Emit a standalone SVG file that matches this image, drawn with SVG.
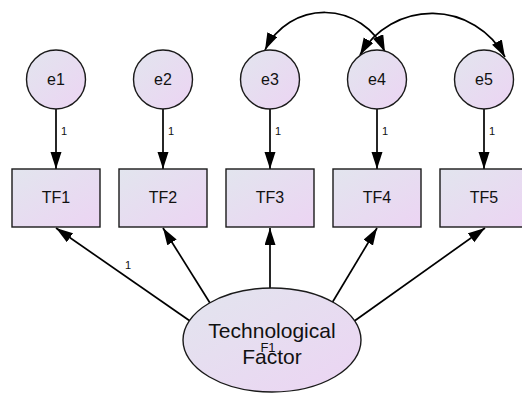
<svg xmlns="http://www.w3.org/2000/svg" width="522" height="400" viewBox="0 0 522 400">
  <defs>
    <linearGradient id="fillGrad" x1="0" y1="0" x2="1" y2="1">
      <stop offset="0" stop-color="#e2e5ee"/>
      <stop offset="1" stop-color="#ecd4f3"/>
    </linearGradient>
    <marker id="arrow" markerUnits="userSpaceOnUse" markerWidth="18" markerHeight="12" refX="17" refY="5.5" orient="auto-start-reverse">
      <path d="M0,0 L17,5.5 L0,11 Z" fill="#000"/>
    </marker>
    <style>
      .shape { fill: url(#fillGrad); stroke: #1a1a1a; stroke-width: 1.4; }
      .edge { fill: none; stroke: #000; stroke-width: 1.7; marker-end: url(#arrow); }
      .cov { fill: none; stroke: #000; stroke-width: 1.7; marker-start: url(#arrow); marker-end: url(#arrow); }
      .lbl { font-family: "Liberation Sans", Arial, sans-serif; fill: #111; text-anchor: middle; }
      .small { font-family: "Liberation Sans", Arial, sans-serif; font-size: 11px; fill: #111; }
    </style>
  </defs>
  <rect width="522" height="400" fill="#fff"/>

  <!-- connectors -->
  <g id="connectors">
    <!-- error terms to indicators -->
    <line class="edge" x1="56" y1="109" x2="56" y2="169"/>
    <line class="edge" x1="163" y1="109" x2="163" y2="169"/>
    <line class="edge" x1="270" y1="109" x2="270" y2="169"/>
    <line class="edge" x1="377" y1="109" x2="377" y2="169"/>
    <line class="edge" x1="484" y1="109" x2="484" y2="169"/>
    <text class="small" x="61" y="135">1</text>
    <text class="small" x="168" y="135">1</text>
    <text class="small" x="275" y="135">1</text>
    <text class="small" x="382" y="135">1</text>
    <text class="small" x="489" y="135">1</text>
    <!-- factor to indicators -->
    <line class="edge" x1="190" y1="321" x2="56" y2="228"/>
    <line class="edge" x1="210" y1="303" x2="163" y2="228"/>
    <line class="edge" x1="270" y1="288" x2="270" y2="228"/>
    <line class="edge" x1="332" y1="303" x2="377" y2="228"/>
    <line class="edge" x1="353" y1="322" x2="485" y2="228"/>
    <text class="small" x="125" y="269">1</text>
    <!-- covariances -->
    <path class="cov" d="M265,50 A66,66 0 0 1 385,52"/>
    <path class="cov" d="M360,55 A83,83 0 0 1 505,57"/>
  </g>

  <!-- error terms -->
  <g id="e1"><circle class="shape" cx="56" cy="79.5" r="29.5"/><text class="lbl" x="56" y="85" font-size="16">e1</text></g>
  <g id="e2"><circle class="shape" cx="163" cy="79.5" r="29.5"/><text class="lbl" x="163" y="85" font-size="16">e2</text></g>
  <g id="e3"><circle class="shape" cx="270" cy="79.5" r="29.5"/><text class="lbl" x="270" y="85" font-size="16">e3</text></g>
  <g id="e4"><circle class="shape" cx="377" cy="79.5" r="29.5"/><text class="lbl" x="377" y="85" font-size="16">e4</text></g>
  <g id="e5"><circle class="shape" cx="484" cy="79.5" r="29.5"/><text class="lbl" x="484" y="85" font-size="16">e5</text></g>

  <!-- observed indicators -->
  <g id="TF1"><rect class="shape" x="12" y="169" width="88" height="58"/><text class="lbl" x="56" y="203" font-size="16">TF1</text></g>
  <g id="TF2"><rect class="shape" x="119" y="169" width="88" height="58"/><text class="lbl" x="163" y="203" font-size="16">TF2</text></g>
  <g id="TF3"><rect class="shape" x="226" y="169" width="88" height="58"/><text class="lbl" x="270" y="203" font-size="16">TF3</text></g>
  <g id="TF4"><rect class="shape" x="333" y="169" width="88" height="58"/><text class="lbl" x="377" y="203" font-size="16">TF4</text></g>
  <g id="TF5"><rect class="shape" x="440" y="169" width="88" height="58"/><text class="lbl" x="484" y="203" font-size="16">TF5</text></g>

  <!-- latent factor -->
  <g id="F1">
    <ellipse class="shape" cx="272" cy="340" rx="89" ry="52"/>
    <text class="lbl" x="272" y="338" font-size="21">Technological</text>
    <text class="lbl" x="268" y="352" font-size="13">F1</text>
    <text class="lbl" x="272" y="364" font-size="21">Factor</text>
  </g>
</svg>
